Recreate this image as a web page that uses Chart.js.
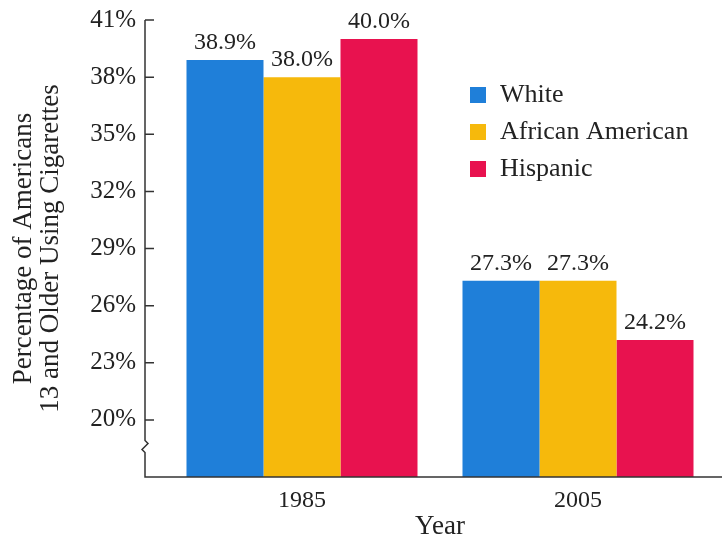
<!DOCTYPE html>
<html>
<head>
<meta charset="utf-8">
<script src="https://cdn.jsdelivr.net/npm/chart.js@4/dist/chart.umd.min.js"></script>
<style>
  body { margin: 0; background: #fff; }
</style>
</head>
<body>
<canvas id="chart" width="726" height="544"></canvas>
<script>
// Data
const years = ['1985', '2005'];
const groups = ['White', 'African American', 'Hispanic'];
const white = [38.9, 27.3];
const africanAmerican = [38.0, 27.3];
const hispanic = [40.0, 24.2];
const yTicks = [20, 23, 26, 29, 32, 35, 38, 41];

const colors = ['#1f7fd9', '#f6b90c', '#e8124f'];
const ink = '#222222';
const serif = "'Liberation Serif', 'DejaVu Serif', serif";

// Label over each bar
const barLabels = {
    id: 'barLabels',
    afterDatasetsDraw(chart) {
        const ctx = chart.ctx;
        ctx.save();
        ctx.font = '24px ' + serif;
        ctx.fillStyle = ink;
        ctx.textAlign = 'center';
        ctx.textBaseline = 'middle';
        chart.data.datasets.forEach((ds, i) => {
            chart.getDatasetMeta(i).data.forEach((bar, j) => {
                ctx.fillText(ds.data[j].toFixed(1) + '%', bar.x, bar.y - 17);
            });
        });
        ctx.restore();
    }
};

// Axis lines with break and inward ticks, plus legend
const axisAndLegend = {
    id: 'axisAndLegend',
    afterDraw(chart) {
        const ctx = chart.ctx;
        const area = chart.chartArea;
        const y = chart.scales.y;
        const ax = area.left - 19;
        ctx.save();
        ctx.strokeStyle = '#333';
        ctx.lineWidth = 1.5;

        // vertical axis with a small break near the bottom
        const breakY = y.getPixelForValue(18.6);
        ctx.beginPath();
        ctx.moveTo(ax, y.getPixelForValue(41));
        ctx.lineTo(ax, breakY - 6);
        ctx.lineTo(ax + 3, breakY - 3);
        ctx.lineTo(ax - 3, breakY + 3);
        ctx.lineTo(ax, breakY + 6);
        ctx.lineTo(ax, area.bottom);
        ctx.lineTo(area.right + 6, area.bottom);
        ctx.stroke();

        // tick marks
        ctx.beginPath();
        yTicks.forEach(v => {
            const py = y.getPixelForValue(v);
            ctx.moveTo(ax, py);
            ctx.lineTo(ax + 9, py);
        });
        ctx.stroke();

        // legend
        ctx.font = '26px ' + serif;
        ctx.textBaseline = 'middle';
        ctx.textAlign = 'left';
        const lx = area.right - 246;
        chart.data.datasets.forEach((ds, i) => {
            const cy = area.top + 75 + i * 37;
            ctx.fillStyle = ds.backgroundColor;
            ctx.fillRect(lx, cy - 8, 16, 16);
            ctx.fillStyle = ink;
            ctx.fillText(ds.label, lx + 30, cy);
        });
        ctx.restore();
    }
};

new Chart(document.getElementById('chart'), {
    type: 'bar',
    data: {
        labels: years,
        datasets: [
            { label: groups[0], data: white, backgroundColor: colors[0] },
            { label: groups[1], data: africanAmerican, backgroundColor: colors[1] },
            { label: groups[2], data: hispanic, backgroundColor: colors[2] }
        ]
    },
    options: {
        responsive: false,
        animation: false,
        datasets: {
            bar: { barPercentage: 1, categoryPercentage: 0.837, borderWidth: 0 }
        },
        layout: { padding: { top: 20, right: 10, left: 0, bottom: 0 } },
        plugins: {
            legend: { display: false },
            tooltip: { enabled: false }
        },
        scales: {
            x: {
                grid: { display: false, drawTicks: false },
                border: { display: false },
                ticks: { color: ink, font: { family: serif, size: 24 }, padding: 9 },
                title: {
                    display: true,
                    text: 'Year',
                    color: ink,
                    font: { family: serif, size: 27, lineHeight: 1 },
                    padding: { top: 0, bottom: 4 }
                },
                afterFit(scale) { scale.height = 67; }
            },
            y: {
                min: 17,
                max: 41,
                afterBuildTicks(scale) {
                    scale.ticks = yTicks.map(v => ({ value: v }));
                },
                grid: { display: false, drawTicks: true, tickLength: 28 },
                border: { display: false },
                ticks: {
                    color: ink,
                    font: { family: serif, size: 25, lineHeight: 1 },
                    padding: 0,
                    callback: v => v + '%'
                },
                title: {
                    display: true,
                    text: ['Percentage of Americans', '13 and Older Using Cigarettes'],
                    color: ink,
                    font: { family: serif, size: 27, lineHeight: 1 },
                    padding: { top: 10, bottom: 0 }
                },
                afterFit(scale) { scale.width = 164; }
            }
        }
    },
    plugins: [barLabels, axisAndLegend]
});
</script>
</body>
</html>
